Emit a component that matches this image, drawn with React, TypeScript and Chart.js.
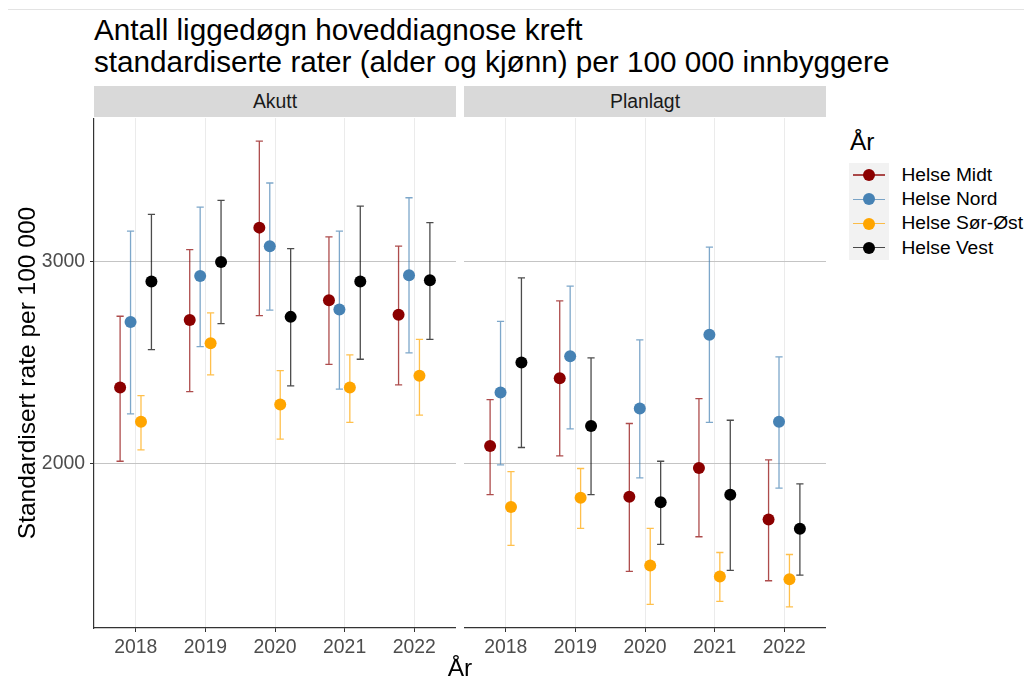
import React, { useEffect, useRef } from 'react';
import { Chart, registerables } from 'chart.js';

Chart.register(...registerables);

const FONT = "'Liberation Sans', Arial, Helvetica, sans-serif";

const years = [2018, 2019, 2020, 2021, 2022];
const regions = ['Helse Midt', 'Helse Nord', 'Helse Sør-Øst', 'Helse Vest'];
const pointColors = ['#8B0000', '#4682B4', '#FFA500', '#000000'];
const barColors = ['rgba(139,0,0,0.7)', 'rgba(70,130,180,0.7)', 'rgba(255,165,0,0.7)', 'rgba(0,0,0,0.7)'];
const yTicks = [2000, 3000];
const yMin = 1187;
const yMax = 3713;
const dodgeWidth = 0.6;

// Akutt
const akuttMidt = [2378, 2713, 3170, 2810, 2738];
const akuttMidtLow = [2013, 2358, 2734, 2493, 2391];
const akuttMidtHigh = [2731, 3061, 3598, 3124, 3078];
const akuttNord = [2703, 2931, 3078, 2764, 2934];
const akuttNordLow = [2248, 2581, 2761, 2370, 2550];
const akuttNordHigh = [3153, 3272, 3391, 3153, 3318];
const akuttSorOst = [2208, 2597, 2294, 2378, 2436];
const akuttSorOstLow = [2069, 2441, 2122, 2205, 2241];
const akuttSorOstHigh = [2338, 2748, 2462, 2540, 2617];
const akuttVest = [2903, 3000, 2728, 2903, 2909];
const akuttVestLow = [2566, 2695, 2386, 2518, 2617];
const akuttVestHigh = [3236, 3305, 3066, 3277, 3195];

// Planlagt
const planlagtMidt = [2089, 2424, 1837, 1980, 1724];
const planlagtMidtLow = [1848, 2040, 1467, 1639, 1421];
const planlagtMidtHigh = [2318, 2807, 2200, 2323, 2020];
const planlagtNord = [2353, 2533, 2274, 2640, 2208];
const planlagtNordLow = [1995, 2173, 1931, 2205, 1880];
const planlagtNordHigh = [2706, 2880, 2614, 3073, 2530];
const planlagtSorOst = [1786, 1832, 1497, 1442, 1429];
const planlagtSorOstLow = [1596, 1680, 1304, 1319, 1292];
const planlagtSorOstHigh = [1962, 1977, 1680, 1561, 1551];
const planlagtVest = [2502, 2187, 1810, 1847, 1678];
const planlagtVestLow = [2081, 1848, 1601, 1472, 1449];
const planlagtVestHigh = [2921, 2525, 2013, 2216, 1901];

const akuttSeries = [
  [akuttMidt, akuttMidtLow, akuttMidtHigh],
  [akuttNord, akuttNordLow, akuttNordHigh],
  [akuttSorOst, akuttSorOstLow, akuttSorOstHigh],
  [akuttVest, akuttVestLow, akuttVestHigh],
];
const planlagtSeries = [
  [planlagtMidt, planlagtMidtLow, planlagtMidtHigh],
  [planlagtNord, planlagtNordLow, planlagtNordHigh],
  [planlagtSorOst, planlagtSorOstLow, planlagtSorOstHigh],
  [planlagtVest, planlagtVestLow, planlagtVestHigh],
];

const errorBarPlugin = {
  id: 'errorBars',
  beforeDatasetsDraw(chart: any) {
    const ctx = chart.ctx;
    const ys = chart.scales.y;
    chart.data.datasets.forEach((ds: any, i: number) => {
      const meta = chart.getDatasetMeta(i);
      meta.data.forEach((pt: any, j: number) => {
        const x = pt.x;
        const y1 = ys.getPixelForValue(ds.errLow[j]);
        const y2 = ys.getPixelForValue(ds.errHigh[j]);
        const cap = 3.6;
        ctx.save();
        ctx.strokeStyle = ds.errColor;
        ctx.lineWidth = 1.3;
        ctx.beginPath();
        ctx.moveTo(x, y1);
        ctx.lineTo(x, y2);
        ctx.moveTo(x - cap, y1);
        ctx.lineTo(x + cap, y1);
        ctx.moveTo(x - cap, y2);
        ctx.lineTo(x + cap, y2);
        ctx.stroke();
        ctx.restore();
      });
    });
  },
};

function Panel({ series, showY, width, height }: { series: number[][][]; showY: boolean; width: number; height: number }) {
  const ref = useRef<HTMLCanvasElement | null>(null);
  useEffect(() => {
    if (!ref.current) return;
    const datasets = series.map((s, i) => ({
      label: regions[i],
      data: years.map((yr, j) => ({ x: yr + (i - 1.5) * dodgeWidth / 4, y: s[0][j] })),
      errLow: s[1],
      errHigh: s[2],
      errColor: barColors[i],
      pointRadius: 6,
      pointHoverRadius: 6,
      pointBackgroundColor: pointColors[i],
      pointBorderWidth: 0,
      borderColor: pointColors[i],
      backgroundColor: pointColors[i],
      showLine: false,
      clip: false,
      order: 3 - i,
    }));
    const chart = new Chart(ref.current, {
      type: 'scatter',
      data: { datasets } as any,
      plugins: [errorBarPlugin],
      options: {
        animation: false,
        responsive: false,
        maintainAspectRatio: false,
        layout: { padding: 0, autoPadding: false },
        plugins: { legend: { display: false }, tooltip: { enabled: false } },
        scales: {
          x: {
            type: 'linear',
            min: 2017.4,
            max: 2022.6,
            afterBuildTicks: (s: any) => {
              s.ticks = years.map((v) => ({ value: v }));
            },
            afterFit: (s: any) => {
              s.height = 42;
              s.paddingLeft = 0;
              s.paddingRight = 0;
            },
            ticks: {
              autoSkip: false,
              maxRotation: 0,
              color: '#4D4D4D',
              font: { family: FONT, size: 19.4 },
              padding: 4,
              callback: (v: any) => String(v),
            },
            grid: { color: '#EBEBEB', lineWidth: 1, tickColor: '#333333', tickLength: 4, drawTicks: true },
            border: { display: true, color: '#333333', width: 1.2 },
          },
          y: {
            type: 'linear',
            min: yMin,
            max: yMax,
            afterBuildTicks: (s: any) => {
              s.ticks = yTicks.map((v) => ({ value: v }));
            },
            afterFit: (s: any) => {
              s.width = showY ? 86 : 0;
              s.paddingTop = 0;
              s.paddingBottom = 0;
            },
            ticks: {
              display: showY,
              color: '#4D4D4D',
              font: { family: FONT, size: 19.4 },
              padding: 5,
              callback: (v: any) => String(v),
            },
            title: {
              display: showY,
              text: 'Standardisert rate per 100 000',
              color: '#000000',
              font: { family: FONT, size: 24.5 },
              padding: { top: 6, bottom: 4 },
            },
            grid: { color: '#C4C4C4', lineWidth: 1, tickColor: '#333333', tickLength: 4, drawTicks: showY },
            border: { display: showY, color: '#333333', width: 1.2 },
          },
        },
      } as any,
    });
    return () => chart.destroy();
  }, []);
  return <canvas ref={ref} width={width} height={height} style={{ display: 'block', width, height }} />;
}

const abs = (left: number, top: number, extra: any = {}) => ({ position: 'absolute' as const, left: left - 8, top: top - 8, ...extra });

export default function App() {
  return (
    <div style={{ position: 'relative', width: 1016, height: 668, fontFamily: FONT, background: '#fff' }}>
      <div style={abs(8, 9, { width: 1016, height: 1, background: '#E3E3E3' })} />
      <div style={abs(94, 13.6, { fontSize: 29.7, lineHeight: '32.2px', color: '#000', whiteSpace: 'pre' })}>
        {'Antall liggedøgn hoveddiagnose kreft\nstandardiserte rater (alder og kjønn) per 100 000 innbyggere'}
      </div>
      <div style={abs(94, 86, { width: 362, height: 31, background: '#D9D9D9', color: '#1A1A1A', fontSize: 19.4, lineHeight: '31px', textAlign: 'center' })}>Akutt</div>
      <div style={abs(464, 86, { width: 362, height: 31, background: '#D9D9D9', color: '#1A1A1A', fontSize: 19.4, lineHeight: '31px', textAlign: 'center' })}>Planlagt</div>
      <div style={abs(8, 118)}>
        <Panel series={akuttSeries} showY={true} width={448} height={552} />
      </div>
      <div style={abs(464, 118)}>
        <Panel series={planlagtSeries} showY={false} width={362} height={552} />
      </div>
      <div style={abs(94, 656.3, { width: 732, textAlign: 'center', fontSize: 24.5, lineHeight: '24.5px', color: '#000' })}>År</div>
      <div style={abs(850, 130.3, { fontSize: 24.5, lineHeight: '24.5px', color: '#000' })}>År</div>
      <div style={abs(849, 163, { width: 40, height: 96.8, background: '#F2F2F2' })} />
      {regions.map((r, i) => {
        const top = 163 + 24.2 * i;
        const cy = top + 12.1;
        return (
          <React.Fragment key={r}>
            <div style={abs(853, cy - 0.65, { width: 32, height: 1.3, background: barColors[i] })} />
            <div style={abs(869 - 6, cy - 6, { width: 12, height: 12, borderRadius: '50%', background: pointColors[i] })} />
            <div style={abs(901.5, top, { fontSize: 19.2, lineHeight: '24.2px', color: '#000', whiteSpace: 'nowrap', width: 'max-content' })}>{r}</div>
          </React.Fragment>
        );
      })}
    </div>
  );
}
